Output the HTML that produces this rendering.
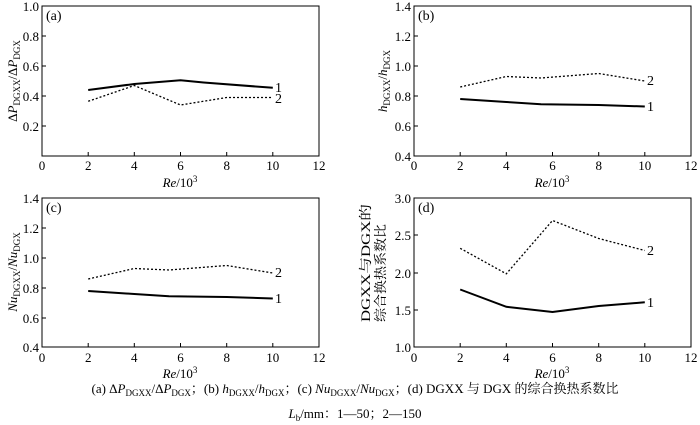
<!DOCTYPE html><html><head><style>body{margin:0;background:#fff}svg{display:block}text{font-family:"Liberation Serif","Noto Serif CJK SC",serif;fill:#000}</style></head><body>
<svg width="700" height="425" xmlns="http://www.w3.org/2000/svg" font-size="13">
<g stroke="#000" fill="none" stroke-width="1">
<rect x="42" y="6" width="277" height="150"/><rect x="414" y="6" width="277" height="150"/>
<rect x="42" y="198" width="277" height="149"/><rect x="414" y="198" width="277" height="149"/>
<path d="M88.2 156v-4M134.3 156v-4M180.5 156v-4M226.7 156v-4M272.8 156v-4M42 126h4M42 96h4M42 66h4M42 36h4
M460.2 156v-4M506.3 156v-4M552.5 156v-4M598.7 156v-4M644.8 156v-4M414 126h4M414 96h4M414 66h4M414 36h4
M88.2 347v-4M134.3 347v-4M180.5 347v-4M226.7 347v-4M272.8 347v-4M42 318h4M42 288h4M42 258h4M42 228h4
M460.2 347v-4M506.3 347v-4M552.5 347v-4M598.7 347v-4M644.8 347v-4M414 310h4M414 273h4M414 235h4"/>
</g>
<g fill="none" stroke="#000">
<polyline stroke-width="2" points="88.2,90 134.3,84 180.5,80.3 203.6,82.5 272.8,87.8"/>
<polyline stroke-width="1.3" stroke-dasharray="2,2" points="88.2,101.3 134.3,85.5 180.5,105 226.7,97.5 272.8,97.5"/>
<polyline stroke-width="2" points="460.2,99 506.3,102 541,104.3 598.7,105 644.8,106.5"/>
<polyline stroke-width="1.3" stroke-dasharray="2,2" points="460.2,87 506.3,76.5 541,78 598.7,73.5 644.8,81"/>
<polyline stroke-width="2" points="88.2,291 134.3,294 169,296.3 226.7,297 272.8,298.5"/>
<polyline stroke-width="1.3" stroke-dasharray="2,2" points="88.2,279 134.3,268.5 169,270 226.7,265.5 272.8,273"/>
<polyline stroke-width="2" points="460.2,289.5 506.3,306.8 552.5,312 598.7,306 644.8,302.3"/>
<polyline stroke-width="1.3" stroke-dasharray="2,2" points="460.2,248.3 506.3,273.8 552.5,220.5 598.7,238.5 644.8,250.5"/>
</g>
<g font-size="14">
<text x="275" y="92">1</text><text x="275" y="103">2</text>
<text x="647" y="111">1</text><text x="647" y="85">2</text>
<text x="275" y="303">1</text><text x="275" y="277">2</text>
<text x="647" y="307">1</text><text x="647" y="255">2</text>
<text x="46" y="20">(a)</text><text x="418" y="20">(b)</text><text x="46" y="212">(c)</text><text x="418" y="212">(d)</text>
</g>
<g text-anchor="middle">
<g transform="translate(0,170)"><text x="42">0</text><text x="88.2">2</text><text x="134.3">4</text><text x="180.5">6</text><text x="226.7">8</text><text x="272.8">10</text><text x="319">12</text></g>
<g transform="translate(372,170)"><text x="42">0</text><text x="88.2">2</text><text x="134.3">4</text><text x="180.5">6</text><text x="226.7">8</text><text x="272.8">10</text><text x="319">12</text></g>
<g transform="translate(0,362)"><text x="42">0</text><text x="88.2">2</text><text x="134.3">4</text><text x="180.5">6</text><text x="226.7">8</text><text x="272.8">10</text><text x="319">12</text></g>
<g transform="translate(372,362)"><text x="42">0</text><text x="88.2">2</text><text x="134.3">4</text><text x="180.5">6</text><text x="226.7">8</text><text x="272.8">10</text><text x="319">12</text></g>
<text x="180" y="187"><tspan font-style="italic">Re</tspan>/10<tspan font-size="9" dy="-5">3</tspan></text>
<text x="552" y="187"><tspan font-style="italic">Re</tspan>/10<tspan font-size="9" dy="-5">3</tspan></text>
<text x="180" y="378"><tspan font-style="italic">Re</tspan>/10<tspan font-size="9" dy="-5">3</tspan></text>
<text x="552" y="378"><tspan font-style="italic">Re</tspan>/10<tspan font-size="9" dy="-5">3</tspan></text>
</g>
<g text-anchor="end">
<text x="39" y="11">1.0</text><text x="39" y="41">0.8</text><text x="39" y="71">0.6</text><text x="39" y="101">0.4</text><text x="39" y="131">0.2</text>
<text x="411" y="11">1.4</text><text x="411" y="41">1.2</text><text x="411" y="71">1.0</text><text x="411" y="101">0.8</text><text x="411" y="131">0.6</text><text x="411" y="161">0.4</text>
<text x="39" y="203">1.4</text><text x="39" y="233">1.2</text><text x="39" y="263">1.0</text><text x="39" y="293">0.8</text><text x="39" y="323">0.6</text><text x="39" y="352">0.4</text>
<text x="411" y="203">3.0</text><text x="411" y="240">2.5</text><text x="411" y="278">2.0</text><text x="411" y="315">1.5</text><text x="411" y="352">1.0</text>
</g>
<g text-anchor="middle">
<text transform="translate(17,81) rotate(-90)">Δ<tspan font-style="italic">P</tspan><tspan font-size="9" dy="3">DGXX</tspan><tspan dy="-3">/Δ</tspan><tspan font-style="italic">P</tspan><tspan font-size="9" dy="3">DGX</tspan></text>
<text transform="translate(387,81) rotate(-90)"><tspan font-style="italic">h</tspan><tspan font-size="9" dy="3">DGXX</tspan><tspan dy="-3">/</tspan><tspan font-style="italic">h</tspan><tspan font-size="9" dy="3">DGX</tspan></text>
<text transform="translate(17,272) rotate(-90)"><tspan font-style="italic">Nu</tspan><tspan font-size="9" dy="3">DGXX</tspan><tspan dy="-3">/</tspan><tspan font-style="italic">Nu</tspan><tspan font-size="9" dy="3">DGX</tspan></text>
</g>
<text transform="translate(370,322) rotate(-90)" textLength="118" lengthAdjust="spacingAndGlyphs">DGXX与DGX的</text>
<text transform="translate(385,322) rotate(-90)" textLength="98" lengthAdjust="spacingAndGlyphs">综合换热系数比</text>
<text x="355" y="393" text-anchor="middle" font-size="13">(a) Δ<tspan font-style="italic">P</tspan><tspan font-size="9" dy="3">DGXX</tspan><tspan dy="-3">/Δ</tspan><tspan font-style="italic">P</tspan><tspan font-size="9" dy="3">DGX</tspan><tspan dy="-3">；(b) </tspan><tspan font-style="italic">h</tspan><tspan font-size="9" dy="3">DGXX</tspan><tspan dy="-3">/</tspan><tspan font-style="italic">h</tspan><tspan font-size="9" dy="3">DGX</tspan><tspan dy="-3">；(c) </tspan><tspan font-style="italic">Nu</tspan><tspan font-size="9" dy="3">DGXX</tspan><tspan dy="-3">/</tspan><tspan font-style="italic">Nu</tspan><tspan font-size="9" dy="3">DGX</tspan><tspan dy="-3">；(d) DGXX 与 DGX 的综合换热系数比</tspan></text>
<text x="355" y="418" text-anchor="middle" font-size="13"><tspan font-style="italic">L</tspan><tspan font-size="9" dy="3">b</tspan><tspan dy="-3">/mm：1—50；2—150</tspan></text>
</svg></body></html>
